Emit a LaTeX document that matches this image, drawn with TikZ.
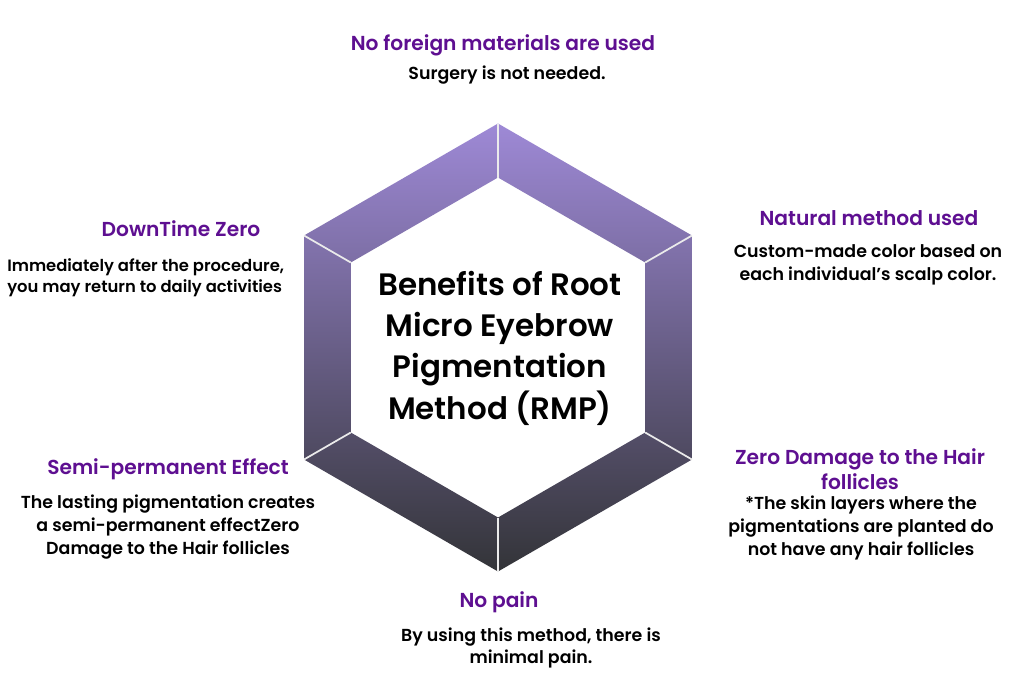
\documentclass[tikz,border=0pt]{standalone}
\usepackage{fontspec}
\setmainfont{Poppins}
\usetikzlibrary{calc}
\IfFontExistsTF{Poppins SemiBold}
  {\newfontfamily\bodyf{Poppins SemiBold}\def\bsz{13.05}\def\bszs{12.3}\def\tsz{23.2}%
   \newfontfamily\headf{Poppins SemiBold}\def\hsz{15.15}}
  {\def\bodyf{\bfseries}\def\bsz{12.7}\def\bszs{12}\def\tsz{22.7}%
   \def\headf{\bfseries}\def\hsz{14.7}}
\definecolor{headc}{HTML}{5E0F91}
\definecolor{hextop}{HTML}{9E89D6}
\definecolor{hexmid}{HTML}{6C5D92}
\definecolor{hexbot}{HTML}{333438}
\begin{document}
\begin{tikzpicture}[x=0.75pt,y=-0.75pt,
  head/.style={font=\fontsize{\hsz}{18.5}\selectfont\headf, text=headc, inner sep=0pt},
  body/.style={font=\fontsize{\bsz}{17}\selectfont\bodyf, text=black, inner sep=0pt, align=center},
  joint/.style={draw=white!92!black, line width=1.3}]
\useasboundingbox[fill=white] (0,0) rectangle (1024,683);
\coordinate (c) at (498,347.5);
\foreach \i/\a in {1/90,2/30,3/-30,4/-90,5/-150,6/150}{
  \coordinate (o\i) at ($(c)+(\a:224)$);
  \coordinate (n\i) at ($(c)+(\a:170)$);
}
\shade[top color=hextop, middle color=hexmid, bottom color=hexbot, even odd rule]
  (o1)--(o2)--(o3)--(o4)--(o5)--(o6)--cycle (n1)--(n2)--(n3)--(n4)--(n5)--(n6)--cycle;
\foreach \i in {1,...,6}{ \draw[joint] (o\i) -- (n\i); }
\node[font=\fontsize{\tsz}{31}\selectfont\bodyf, align=center, inner sep=0pt] (title) at (500,348)
  {Benefits of Root\\Micro Eyebrow\\Pigmentation\\Method (RMP)};
\node[head] (h1) at (503,45) {No foreign materials are used};
\node[body] (b1) at (507,75) {Surgery is not needed.};
\node[head] (h2) at (181,229) {DownTime Zero};
\node[body, align=left, anchor=west, font=\fontsize{\bszs}{16}\selectfont\bodyf] (b2) at (7,278) {Immediately after the procedure,\\you may return to daily activities};
\node[head] (h3) at (869,218) {Natural method used};
\node[body, font=\fontsize{\bsz}{17.5}\selectfont\bodyf] (b3) at (868,265) {Custom-made color based on\\each individual’s scalp color.};
\node[head, align=center] (h4) at (860,469) {Zero Damage to the Hair\\follicles};
\node[body] (b4) at (861,528) {*The skin layers where the\\pigmentations are planted do\\not have any hair follicles};
\node[head] (h5) at (168,469) {Semi-permanent Effect};
\node[body] (b5) at (168,527) {The lasting pigmentation creates\\a semi-permanent effectZero\\Damage to the Hair follicles};
\node[head] (h6) at (499,602) {No pain};
\node[body] (b6) at (531,648) {By using this method, there is\\minimal pain.};
\end{tikzpicture}
\end{document}
